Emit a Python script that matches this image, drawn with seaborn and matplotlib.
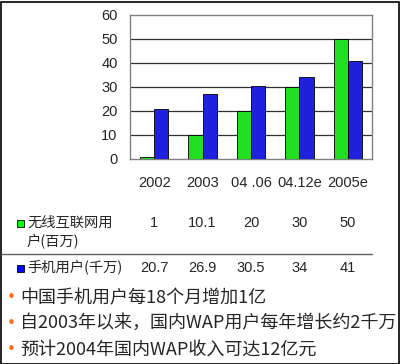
"""Recreate the wireless / mobile users bar chart with its data table and notes."""

import matplotlib

matplotlib.use("Agg")
import matplotlib.pyplot as plt
import matplotlib.transforms as mtransforms
import pandas as pd
import seaborn as sns
from matplotlib.lines import Line2D
from matplotlib.patches import Rectangle

periods = ["2002", "2003", "04 .06", "04.12e", "2005e"]
wireless_users = [1, 10.1, 20, 30, 50]
mobile_users = [20.7, 26.9, 30.5, 34, 41]
wireless_labels = ["1", "10.1", "20", "30", "50"]
mobile_labels = ["20.7", "26.9", "30.5", "34", "41"]
series_names = ["无线互联网用户(百万)", "手机用户(千万)"]
series_colors = ["#00ff00", "#0000ff"]
notes = [
    "中国手机用户每18个月增加1亿",
    "自2003年以来，国内WAP用户每年增长约2千万",
    "预计2004年国内WAP收入可达12亿元",
]

W, H = 400, 364
CJK = ["Noto Sans CJK SC", "DejaVu Sans"]
NUM = ["Liberation Sans", "DejaVu Sans"]


def fy(px):
    """Figure y fraction from a pixel row counted from the top."""
    return 1 - px / H


def main() -> None:
    sns.set_style("white")
    plt.rcParams["font.family"] = CJK

    df = pd.DataFrame(
        {
            "period": periods * 2,
            "value": wireless_users + mobile_users,
            "series": [series_names[0]] * len(periods) + [series_names[1]] * len(periods),
        }
    )

    fig = plt.figure(figsize=(W / 100, H / 100), dpi=100)
    ax = fig.add_axes([130 / W, fy(159), 242 / W, 144 / H])
    sns.barplot(
        data=df,
        x="period",
        y="value",
        hue="series",
        palette=dict(zip(series_names, series_colors)),
        width=0.59,
        edgecolor="black",
        linewidth=0.6,
        legend=False,
        ax=ax,
        zorder=3,
    )
    ax.set_ylim(0, 60)
    ax.set_xlim(-0.5, len(periods) - 0.5)
    ax.set_yticks(range(0, 61, 10))
    ax.set_yticklabels([str(v) for v in range(0, 61, 10)], family=NUM, fontsize=10.5)
    ax.tick_params(axis="y", length=0, pad=9)
    ax.set_xticks(range(len(periods)))
    ax.set_xticklabels([])
    ax.tick_params(axis="x", length=0)
    ax.set_xlabel("")
    ax.set_ylabel("")
    for y in range(10, 60, 10):
        ax.axhline(y, color="#303030", linewidth=0.9, zorder=1)
    for side in ["left", "right", "top", "bottom"]:
        ax.spines[side].set_visible(True)
        ax.spines[side].set_color("#808080")
        ax.spines[side].set_linewidth(1.0)

    # data table under the chart, columns aligned to the bar groups
    blend = mtransforms.blended_transform_factory(ax.transData, fig.transFigure)
    for i, label in enumerate(periods):
        fig.text(i, fy(183), label, transform=blend, ha="center", va="center",
                 family=NUM, fontsize=10.5)
        fig.text(i, fy(223), wireless_labels[i], transform=blend, ha="center",
                 va="center", family=NUM, fontsize=10.5)
        fig.text(i, fy(268), mobile_labels[i], transform=blend, ha="center",
                 va="center", family=NUM, fontsize=10.5)

    fig.patches.append(Rectangle((17 / W, fy(227)), 7 / W, 7 / H, transform=fig.transFigure,
                                 facecolor=series_colors[0], edgecolor="black", linewidth=0.6))
    fig.patches.append(Rectangle((17 / W, fy(272)), 7 / W, 7 / H, transform=fig.transFigure,
                                 facecolor=series_colors[1], edgecolor="black", linewidth=0.6))
    fig.text(27 / W, fy(223), "无线互联网用", ha="left", va="center", fontsize=10.3)
    fig.text(27 / W, fy(242), "户(百万)", ha="left", va="center", fontsize=10.3)
    fig.text(27 / W, fy(268), series_names[1], ha="left", va="center", fontsize=10.3)
    fig.lines.append(Line2D([1 / W, 372 / W], [fy(254), fy(254)], transform=fig.transFigure,
                            color="#606060", linewidth=1.0))

    # bullet notes
    for note, ypx in zip(notes, [298, 323, 350]):
        fig.text(7 / W, fy(ypx), "•", ha="left", va="center", color="#ff6a1a",
                 fontsize=11, family=["DejaVu Sans"])
        fig.text(20 / W, fy(ypx), note, ha="left", va="center", fontsize=13)

    # outer frame
    fig.patches.append(Rectangle((0.5 / W, 0.5 / H), (W - 1.5) / W, (H - 2) / H,
                                 transform=fig.transFigure, fill=False,
                                 edgecolor="black", linewidth=1.2))

    fig.savefig("out.png", dpi=100)
    plt.close(fig)


if __name__ == "__main__":
    main()
